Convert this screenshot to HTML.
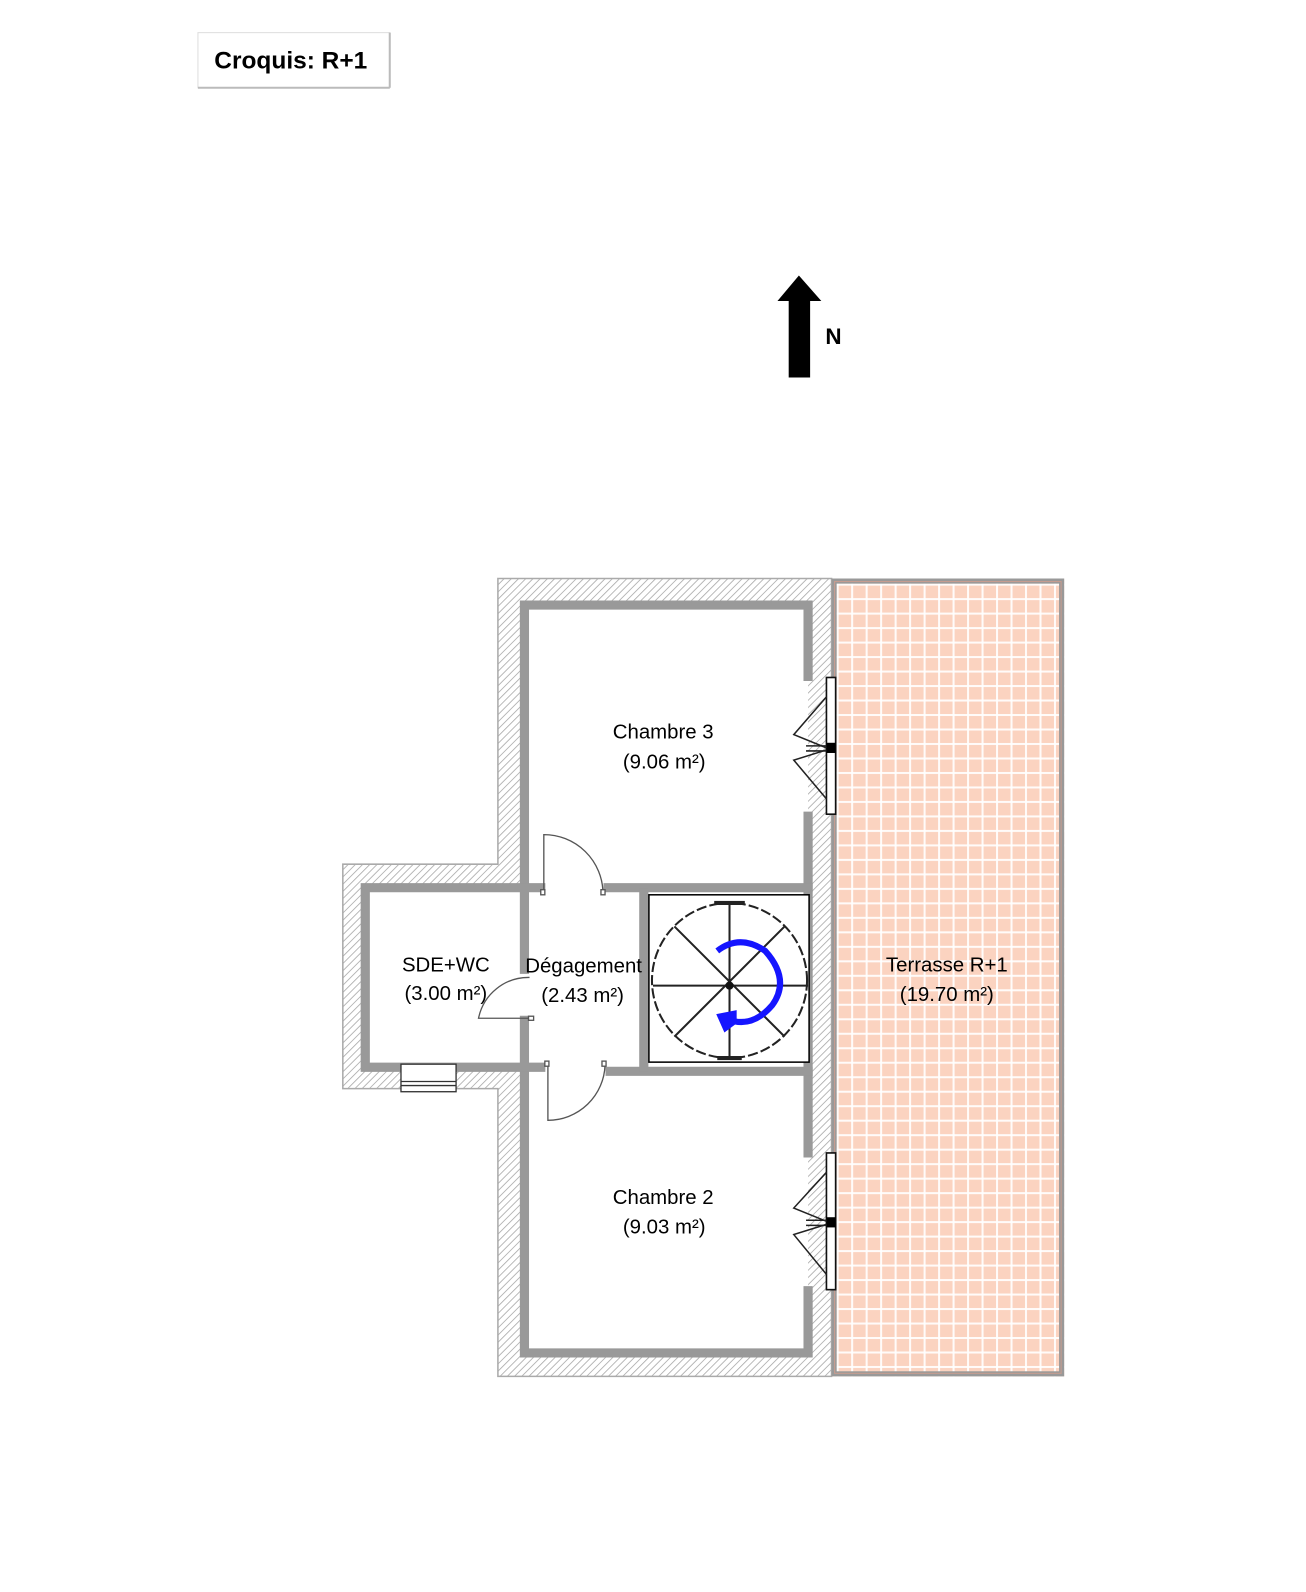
<!DOCTYPE html>
<html><head><meta charset="utf-8"><style>
html,body{margin:0;padding:0;background:#fff;}
svg{display:block;}
text{font-family:"Liberation Sans",sans-serif;}
</style></head><body>
<svg width="1306" height="1592" viewBox="0 0 1306 1592" xmlns="http://www.w3.org/2000/svg">
<defs>
<pattern id="hatch" width="5" height="5" patternUnits="userSpaceOnUse" patternTransform="rotate(45)">
<rect width="5" height="5" fill="#fff"/><line x1="0" y1="0" x2="0" y2="5" stroke="#aaa" stroke-width="1.6"/>
</pattern>
<pattern id="tile" width="14.2" height="14.2" patternUnits="userSpaceOnUse" x="820" y="572">
<rect width="14.2" height="14.2" fill="#fbd3c0"/>
<rect x="0" y="0" width="14.2" height="2" fill="#fff" opacity="0.9"/>
<rect x="0" y="0" width="2" height="14.2" fill="#fff" opacity="0.9"/>
</pattern>
</defs>
<g transform="scale(1.0203)">
<!-- title -->
<rect x="194" y="32" width="188" height="54" fill="#fff" stroke="#ddd" stroke-width="1"/>
<line x1="194" y1="86" x2="382" y2="86" stroke="#bbb" stroke-width="2"/>
<line x1="382" y1="32" x2="382" y2="86" stroke="#bbb" stroke-width="2"/>
<text x="285" y="67" font-size="24" font-weight="bold" text-anchor="middle">Croquis: R+1</text>

<!-- north arrow -->
<polygon points="783,270 805,295 794,295 794,370 773,370 773,295 762,295" fill="#000"/>
<text x="809" y="337" font-size="22" font-weight="bold">N</text>

<!-- hatched outer walls -->
<polygon points="488,567 815,567 815,1349 488,1349 488,1067 336,1067 336,847 488,847" fill="url(#hatch)" stroke="#aaa" stroke-width="1.5"/>
<polygon points="514,593 792,593 792,1326 514,1326 514,1046 358,1046 358,870 514,870" fill="#fff"/>

<!-- terrace -->
<rect x="815" y="567" width="228" height="782" fill="url(#tile)"/>
<rect x="817.5" y="569.5" width="223" height="777" fill="none" stroke="#999" stroke-width="5"/>
<rect x="818" y="570" width="222" height="776" fill="none" stroke="#e8a088" stroke-width="1" opacity="0.6"/>

<!-- gray inner walls -->
<g stroke="#999" stroke-width="9" fill="none" stroke-linecap="square">
<polyline points="514,870 514,593 792,593 792,663"/>
<line x1="792" y1="800" x2="792" y2="1130"/>
<polyline points="792,1265 792,1326 514,1326 514,1046"/>
<polyline points="530,870 358,870 358,1046 530,1046"/>
<line x1="514" y1="870" x2="514" y2="950"/>
<line x1="514" y1="1000" x2="514" y2="1046"/>
<line x1="596" y1="870" x2="792" y2="870"/>
<line x1="598" y1="1050" x2="792" y2="1050"/>
<line x1="631" y1="875" x2="631" y2="1046"/>
</g>

<!-- doors -->
<g stroke="#555" stroke-width="1.3" fill="none">
<path d="M533,875 L533,818 A58,58 0 0 1 591,875"/>
<rect x="530" y="872" width="4" height="5" fill="#fff"/><rect x="589" y="872" width="4" height="5" fill="#fff"/>
<path d="M537,1044 L537,1098 A56,56 0 0 0 593,1044"/>
<rect x="534" y="1040" width="4" height="5" fill="#fff"/><rect x="590" y="1040" width="4" height="5" fill="#fff"/>
<path d="M519,998 L469,998 A50,50 0 0 1 519,958"/>
<rect x="518" y="996" width="5" height="4" fill="#fff"/>
</g>

<!-- SDE window -->
<rect x="393" y="1043" width="54" height="27" fill="#fff" stroke="#333" stroke-width="1.3"/>
<line x1="393" y1="1060" x2="447" y2="1060" stroke="#333" stroke-width="1.3"/>
<line x1="393" y1="1064" x2="447" y2="1064" stroke="#333" stroke-width="1.3"/>

<!-- windows -->
<g stroke="#111" stroke-width="1.6" fill="#fff">
<rect x="810" y="664" width="9" height="134"/>
<rect x="810" y="1130" width="9" height="134"/>
</g>
<rect x="810" y="728" width="9" height="10" fill="#000"/>
<rect x="810" y="1193" width="9" height="10" fill="#000"/>
<g stroke="#222" stroke-width="1.5" fill="none">
<polyline points="810,683 778,720 810,733"/>
<polyline points="810,783 778,745 810,735"/>
<line x1="790" y1="731" x2="810" y2="731"/><line x1="790" y1="736" x2="810" y2="736"/>
<polyline points="810,1149 778,1184 810,1197"/>
<polyline points="810,1249 778,1210 810,1200"/>
<line x1="790" y1="1196" x2="810" y2="1196"/><line x1="790" y1="1201" x2="810" y2="1201"/>
</g>

<!-- stair -->
<rect x="636" y="877" width="157" height="164" fill="#fff" stroke="#000" stroke-width="1.5"/>
<g stroke="#222" stroke-width="2" fill="none">
<circle cx="715" cy="961" r="76" stroke-dasharray="10,3"/>
<line x1="640" y1="966" x2="792" y2="966"/>
<line x1="715" y1="885" x2="715" y2="1038"/>
<line x1="661" y1="908" x2="769" y2="1016"/>
<line x1="769" y1="908" x2="661" y2="1016"/>
</g>
<rect x="700" y="883" width="30" height="4" fill="#222"/>
<rect x="703" y="1035" width="24" height="4" fill="#222"/>
<path d="M703,932 Q725,915 750,932 Q775,960 757,985 Q740,1005 720,1001" stroke="#1515ff" stroke-width="6" fill="none"/>
<polygon points="702,994 722,990 722,1003 710,1012" fill="#1515ff"/>
<circle cx="715" cy="966" r="4" fill="#111"/>

<!-- labels -->
<g font-size="20" text-anchor="middle" fill="#000">
<text x="650" y="724">Chambre 3</text><text x="651" y="753">(9.06 m²)</text>
<text x="650" y="1180">Chambre 2</text><text x="651" y="1209">(9.03 m²)</text>
<text x="928" y="952">Terrasse R+1</text><text x="928" y="981">(19.70 m²)</text>
<text x="437" y="952">SDE+WC</text><text x="437" y="980">(3.00 m²)</text>
<text x="572" y="953">Dégagement</text><text x="571" y="982">(2.43 m²)</text>
</g>
</g>
</svg>
</body></html>
